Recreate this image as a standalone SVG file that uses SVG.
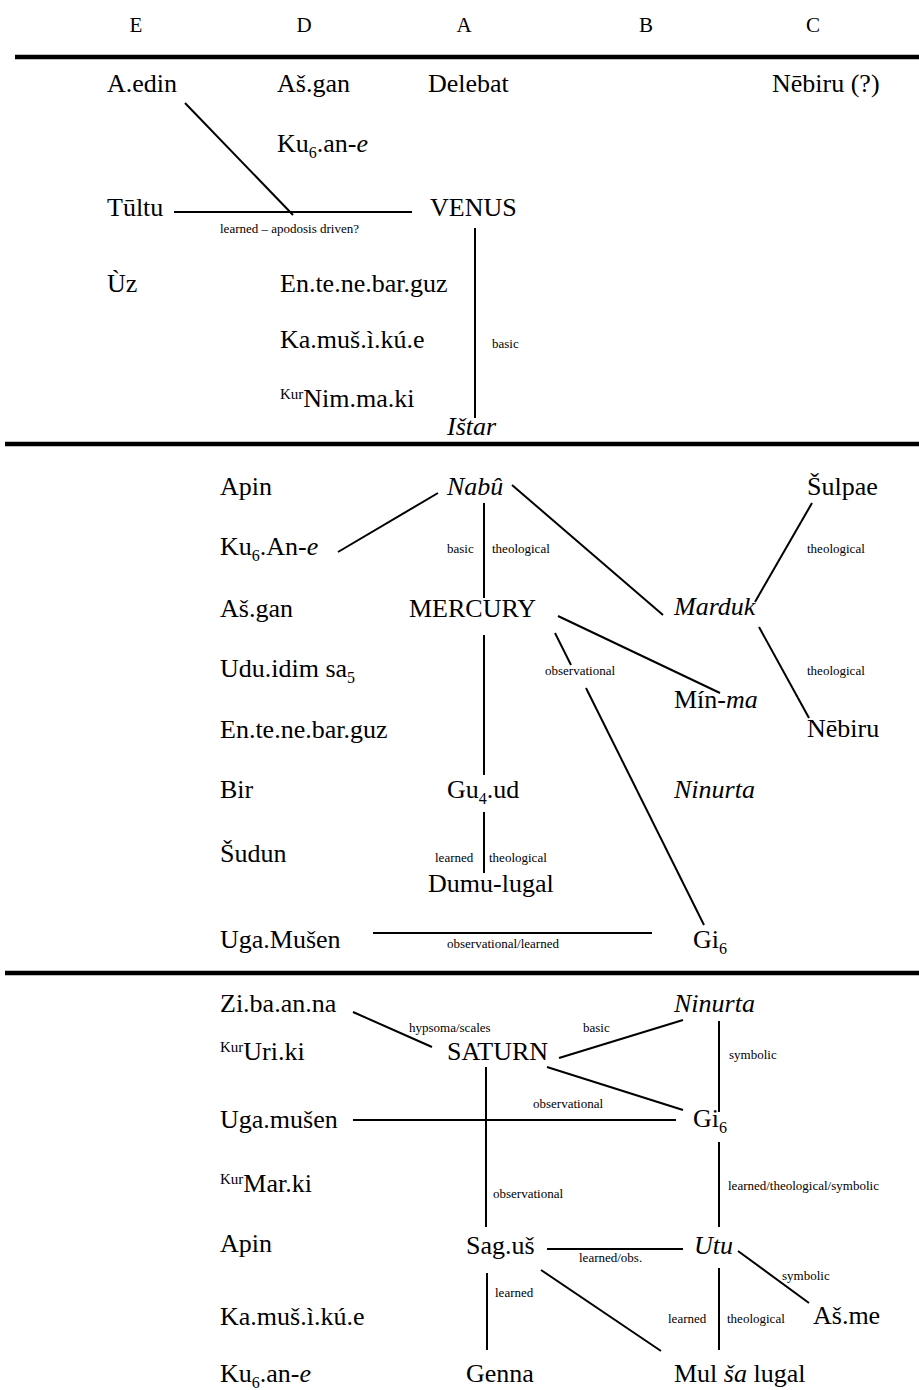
<svg xmlns="http://www.w3.org/2000/svg" width="919" height="1390" viewBox="0 0 919 1390" font-family="Liberation Serif">
<style>
svg text.dgn, svg text.dgh, svg text.dgl{font-family:'Liberation Serif',serif;fill:#000}
svg text.dgn{font-size:26px}
svg text.dgh{font-size:21px;text-anchor:middle}
svg text.dgl{font-size:13px}
.dgit{font-style:italic}
.dgsub{font-size:16px}
.dgsup{font-size:15px}
#connectors line{stroke:#000;stroke-width:2}
.dgsep{stroke:#000;stroke-width:4.5}
</style>
<rect width="919" height="1390" fill="#fff"/>
<g id="header">
<text class="dgh" x="136" y="32">E</text>
<text class="dgh" x="304" y="32">D</text>
<text class="dgh" x="464" y="32">A</text>
<text class="dgh" x="646" y="32">B</text>
<text class="dgh" x="813" y="32">C</text>
</g>
<g id="separators">
<line class="dgsep" x1="15" y1="57" x2="919" y2="57"/>
<line class="dgsep" x1="5" y1="444" x2="919" y2="444"/>
<line class="dgsep" x1="5" y1="973" x2="919" y2="973"/>
</g>
<g id="connectors">
<line x1="185" y1="103" x2="293" y2="215"/>
<line x1="174" y1="212" x2="412" y2="212"/>
<line x1="475" y1="228" x2="475" y2="418"/>
<line x1="438" y1="493" x2="338" y2="552"/>
<line x1="484" y1="503" x2="484" y2="598"/>
<line x1="512" y1="485" x2="663" y2="615"/>
<line x1="812" y1="503" x2="755" y2="602"/>
<line x1="759" y1="627" x2="809" y2="718"/>
<line x1="558" y1="616" x2="720" y2="693"/>
<line x1="555" y1="633" x2="571" y2="665"/>
<line x1="586" y1="688" x2="704" y2="925"/>
<line x1="484" y1="635" x2="484" y2="775"/>
<line x1="484" y1="812" x2="484" y2="873"/>
<line x1="373" y1="933" x2="652" y2="933"/>
<line x1="353" y1="1012" x2="432" y2="1047"/>
<line x1="559" y1="1058" x2="683" y2="1020"/>
<line x1="719" y1="1021" x2="719" y2="1112"/>
<line x1="547" y1="1067" x2="683" y2="1110"/>
<line x1="353" y1="1120" x2="676" y2="1120"/>
<line x1="486" y1="1067" x2="486" y2="1227"/>
<line x1="719" y1="1142" x2="719" y2="1227"/>
<line x1="547" y1="1249" x2="683" y2="1249"/>
<line x1="738" y1="1251" x2="809" y2="1303"/>
<line x1="487" y1="1273" x2="487" y2="1350"/>
<line x1="541" y1="1270" x2="661" y2="1351"/>
<line x1="719" y1="1268" x2="719" y2="1350"/>
</g>
<g id="connector-labels">
<text class="dgl" x="220" y="233">learned – apodosis driven?</text>
<text class="dgl" x="492" y="348">basic</text>
<text class="dgl" x="447" y="553">basic</text>
<text class="dgl" x="492" y="553">theological</text>
<text class="dgl" x="807" y="553">theological</text>
<text class="dgl" x="807" y="675">theological</text>
<text class="dgl" x="545" y="675">observational</text>
<text class="dgl" x="435" y="862">learned</text>
<text class="dgl" x="489" y="862">theological</text>
<text class="dgl" x="447" y="948">observational/learned</text>
<text class="dgl" x="409" y="1032">hypsoma/scales</text>
<text class="dgl" x="583" y="1032">basic</text>
<text class="dgl" x="729" y="1059">symbolic</text>
<text class="dgl" x="533" y="1108">observational</text>
<text class="dgl" x="493" y="1198">observational</text>
<text class="dgl" x="728" y="1190">learned/theological/symbolic</text>
<text class="dgl" x="579" y="1262">learned/obs.</text>
<text class="dgl" x="782" y="1280">symbolic</text>
<text class="dgl" x="495" y="1297">learned</text>
<text class="dgl" x="668" y="1323">learned</text>
<text class="dgl" x="727" y="1323">theological</text>
</g>
<g id="venus-section">
<g id="n-aedin"><text class="dgn" x="107" y="92">A.edin</text></g>
<g id="n-asgan1"><text class="dgn" x="277" y="92">Aš.gan</text></g>
<g id="n-delebat"><text class="dgn" x="428" y="92">Delebat</text></g>
<g id="n-nebiru-q"><text class="dgn" x="772" y="92">Nēbiru (?)</text></g>
<g id="n-kuane1"><text class="dgn" x="277" y="152">Ku<tspan class="dgsub" dy="6">6</tspan><tspan dy="-6">.an-</tspan><tspan class="dgit">e</tspan></text></g>
<g id="n-tultu"><text class="dgn" x="107" y="216">Tūltu</text></g>
<g id="n-venus"><text class="dgn" x="430" y="216">VENUS</text></g>
<g id="n-uz"><text class="dgn" x="107" y="292">Ùz</text></g>
<g id="n-entene1"><text class="dgn" x="280" y="292">En.te.ne.bar.guz</text></g>
<g id="n-kamus1"><text class="dgn" x="280" y="348">Ka.muš.ì.kú.e</text></g>
<g id="n-nimmaki"><text class="dgn" x="280" y="407"><tspan class="dgsup" dy="-8">Kur</tspan><tspan dy="8">Nim.ma.ki</tspan></text></g>
<g id="n-istar"><text class="dgn dgit" x="447" y="435">Ištar</text></g>
</g>
<g id="mercury-section">
<g id="n-apin1"><text class="dgn" x="220" y="495">Apin</text></g>
<g id="n-nabu"><text class="dgn dgit" x="447" y="495">Nabû</text></g>
<g id="n-sulpae"><text class="dgn" x="807" y="495">Šulpae</text></g>
<g id="n-kuane2"><text class="dgn" x="220" y="555">Ku<tspan class="dgsub" dy="6">6</tspan><tspan dy="-6">.An-</tspan><tspan class="dgit">e</tspan></text></g>
<g id="n-asgan2"><text class="dgn" x="220" y="617">Aš.gan</text></g>
<g id="n-mercury"><text class="dgn" x="409" y="617">MERCURY</text></g>
<g id="n-marduk"><text class="dgn dgit" x="674" y="615">Marduk</text></g>
<g id="n-udu"><text class="dgn" x="220" y="677">Udu.idim sa<tspan class="dgsub" dy="6">5</tspan></text></g>
<g id="n-minma"><text class="dgn" x="674" y="708">Mín-<tspan class="dgit">ma</tspan></text></g>
<g id="n-entene2"><text class="dgn" x="220" y="738">En.te.ne.bar.guz</text></g>
<g id="n-nebiru"><text class="dgn" x="807" y="737">Nēbiru</text></g>
<g id="n-bir"><text class="dgn" x="220" y="798">Bir</text></g>
<g id="n-gu4ud"><text class="dgn" x="447" y="798">Gu<tspan class="dgsub" dy="6">4</tspan><tspan dy="-6">.ud</tspan></text></g>
<g id="n-ninurta1"><text class="dgn dgit" x="674" y="798">Ninurta</text></g>
<g id="n-sudun"><text class="dgn" x="220" y="862">Šudun</text></g>
<g id="n-dumu"><text class="dgn" x="428" y="892">Dumu-lugal</text></g>
<g id="n-ugamusen1"><text class="dgn" x="220" y="948">Uga.Mušen</text></g>
<g id="n-gi6-1"><text class="dgn" x="693" y="948">Gi<tspan class="dgsub" dy="6">6</tspan></text></g>
</g>
<g id="saturn-section">
<g id="n-zibaanna"><text class="dgn" x="220" y="1012">Zi.ba.an.na</text></g>
<g id="n-ninurta2"><text class="dgn dgit" x="674" y="1012">Ninurta</text></g>
<g id="n-uriki"><text class="dgn" x="220" y="1060"><tspan class="dgsup" dy="-8">Kur</tspan><tspan dy="8">Uri.ki</tspan></text></g>
<g id="n-saturn"><text class="dgn" x="447" y="1060">SATURN</text></g>
<g id="n-ugamusen2"><text class="dgn" x="220" y="1128">Uga.mušen</text></g>
<g id="n-gi6-2"><text class="dgn" x="693" y="1127">Gi<tspan class="dgsub" dy="6">6</tspan></text></g>
<g id="n-marki"><text class="dgn" x="220" y="1192"><tspan class="dgsup" dy="-8">Kur</tspan><tspan dy="8">Mar.ki</tspan></text></g>
<g id="n-apin2"><text class="dgn" x="220" y="1252">Apin</text></g>
<g id="n-sagus"><text class="dgn" x="466" y="1254">Sag.uš</text></g>
<g id="n-utu"><text class="dgn dgit" x="694" y="1254">Utu</text></g>
<g id="n-kamus2"><text class="dgn" x="220" y="1325">Ka.muš.ì.kú.e</text></g>
<g id="n-asme"><text class="dgn" x="813" y="1324">Aš.me</text></g>
<g id="n-kuane3"><text class="dgn" x="220" y="1382">Ku<tspan class="dgsub" dy="6">6</tspan><tspan dy="-6">.an-</tspan><tspan class="dgit">e</tspan></text></g>
<g id="n-genna"><text class="dgn" x="466" y="1382">Genna</text></g>
<g id="n-mul"><text class="dgn" x="674" y="1382">Mul <tspan class="dgit">ša</tspan> lugal</text></g>
</g>
</svg>
